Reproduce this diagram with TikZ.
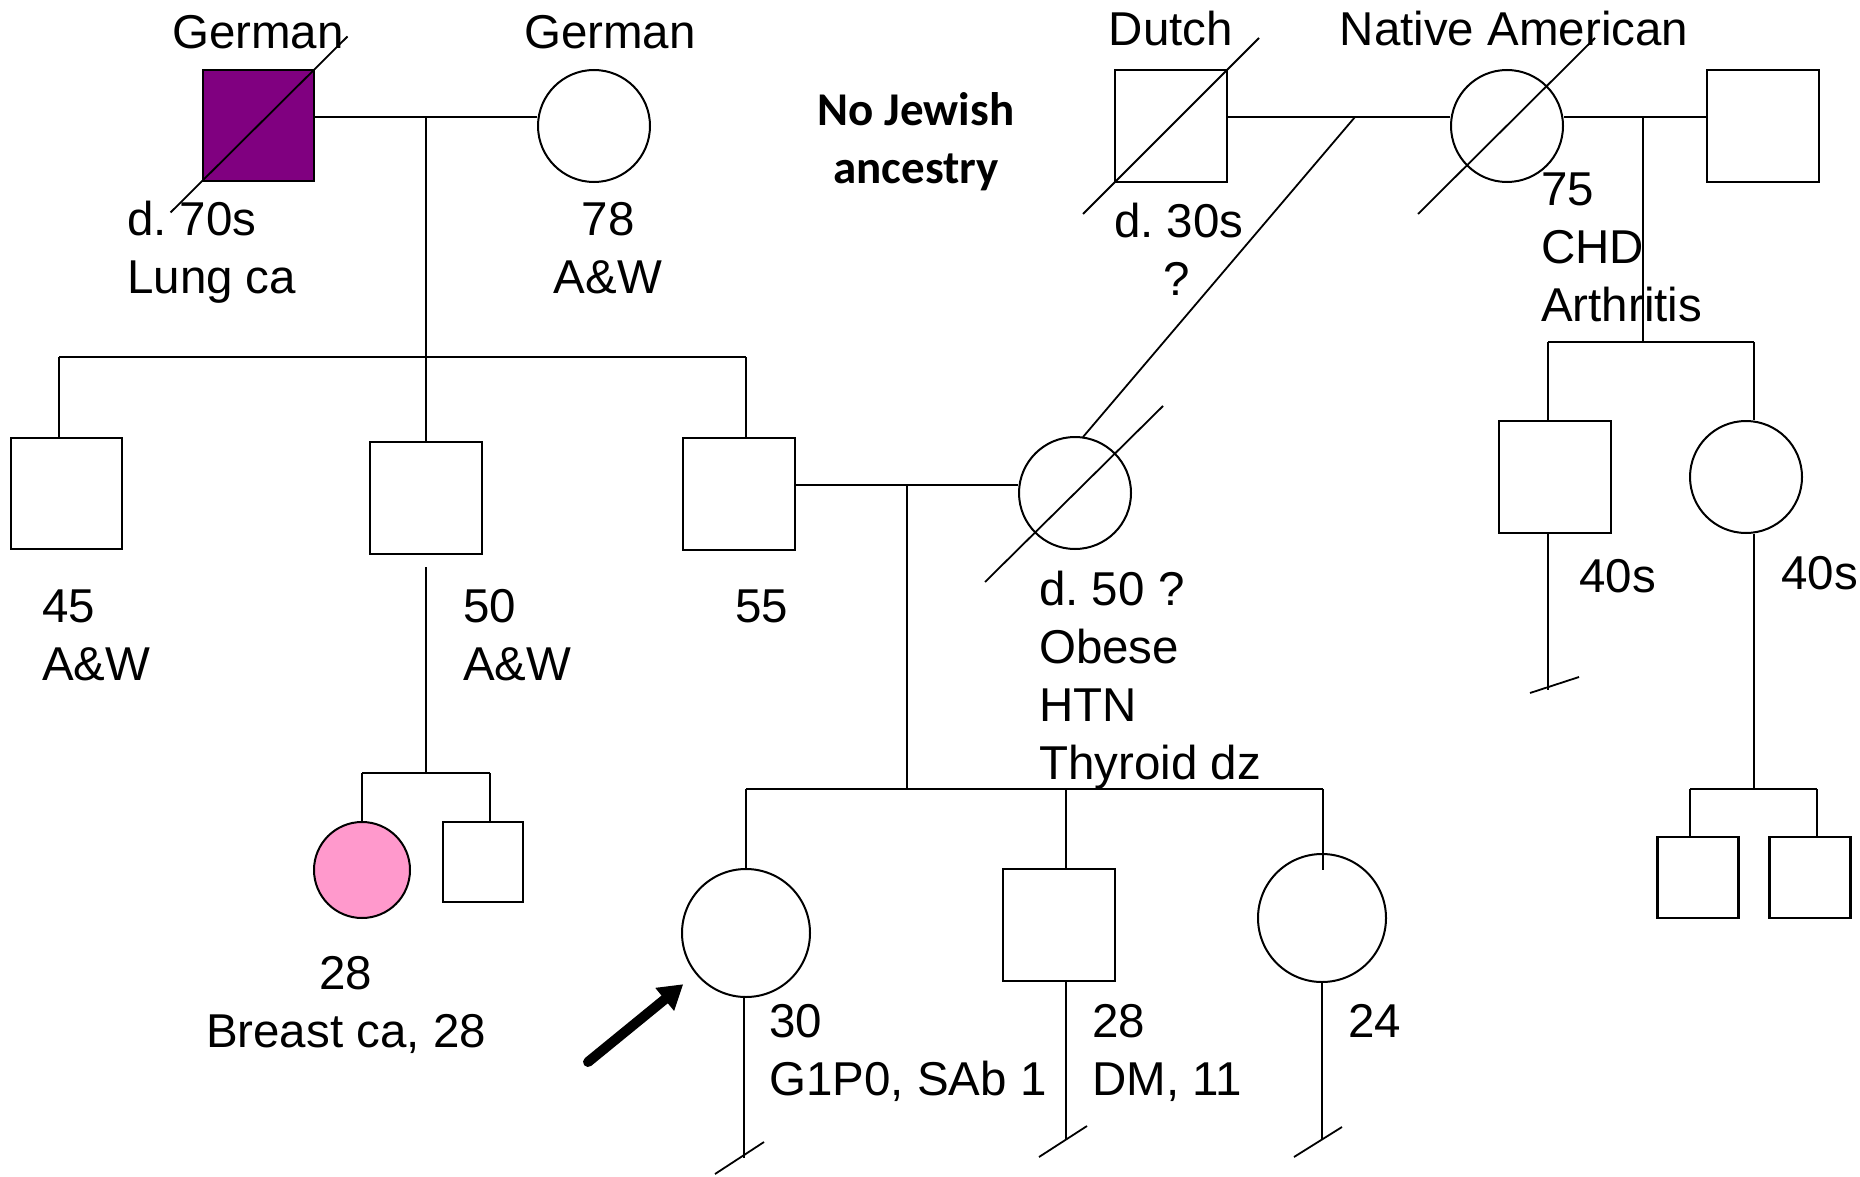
\documentclass[tikz,border=0pt]{standalone}
\usepackage{fontspec}
\setmainfont{Liberation Sans}
\newfontfamily\notefont{Carlito}
\usetikzlibrary{calc,arrows.meta}
\definecolor{affmale}{HTML}{800080}
\definecolor{afffemale}{HTML}{FF99CC}
\frenchspacing

\begin{document}
\begin{tikzpicture}[x=1pt,y=-1pt,
  male/.style={draw, rectangle, minimum size=#1, inner sep=0pt, line width=2.2pt},
  male/.default=112pt,
  female/.style={draw, circle, minimum size=#1, inner sep=0pt, line width=2pt},
  female/.default=112pt,
  rel/.style={line width=2.5pt},
  thinln/.style={line width=1.8pt},
  % multi-line labels are placed by the baseline of their last line
  lbl/.style={font=\fontsize{47.5}{58}\selectfont, inner sep=0pt, anchor=base west, align=left},
  lblc/.style={lbl, anchor=base, align=center},
  gone/.style={line width=1.8pt},
  deadtick/.style={line width=1.8pt},
]
\useasboundingbox (0,0) rectangle (1860,1177);

% ---------- generation I ----------
\node[male=111pt, fill=affmale] (gm1) at (258.5,125.5) {};
\node[female] (gf1) at (594,126) {};
\node[male] (dm) at (1171,126) {};
\node[female] (na) at (1507,126) {};
\node[male] (hm) at (1763,126) {};

\draw[gone] ($(gm1)+(-88,87)$) -- ($(gm1)+(89,-89)$);
\draw[gone] ($(dm)+(-88,88)$) -- ($(dm)+(88,-88)$);
\draw[gone] ($(na)+(-89,88)$) -- ($(na)+(88,-88)$);

\node[lblc] at (258,49) {German};
\node[lblc] at (610,49) {German};
\node[lblc] at (1171,46) {Dutch};
\node[lblc] at (1514,46) {Native American};

\node[lbl] (gm1txt) at (127,293) {d. 70s\\Lung ca};
\node[lblc] (gf1txt) at (608,293) {78\\A\&W};
\node[lbl] (dmtxt) at (1114,237) {d. 30s};
\node[lblc] at (1177,295) {?};
\node[lbl] (natxt) at (1541,321) {75\\CHD\\Arthritis};

\node[font=\notefont\bfseries\fontsize{47}{58}\selectfont, align=center, inner sep=0pt, anchor=base]
  (note) at (916,184) {No Jewish\\ancestry};

% couples of generation I
\coordinate (m1) at (426,117);
\coordinate (m3) at (1355,117);
\coordinate (m4) at (1643,117);
\draw[rel] (gm1.east |- m1) -- (gf1.west |- m1);
\draw[rel] (dm.east |- m3) -- (na.west |- m3);
\draw[rel] (na.east |- m4) -- (hm.west |- m4);

% ---------- generation II ----------
\node[male=111pt] (u1) at (66.5,493.5) {};
\node[male] (u2) at (426,498) {};
\node[male] (f55) at (739,494) {};
\node[female] (w) at (1075,493) {};
\node[male] (cm) at (1555,477) {};
\node[female] (cf) at (1746,477) {};

\draw[gone] ($(w)+(-90,89)$) -- ($(w)+(88,-87)$);

\node[lbl] at (42,680) {45\\A\&W};
\node[lbl] at (463,680) {50\\A\&W};
\node[lbl] at (735,622) {55};
\node[lbl] at (1039,779) {d. 50 ?\\Obese\\HTN\\Thyroid dz};
\node[lbl] at (1579,592) {40s};
\node[lbl] at (1781,589) {40s};

% sibship of gm1 x gf1
\coordinate (s1) at (426,357);
\coordinate (s1a) at (59,357);
\coordinate (s1c) at (746,357);
\draw[thinln] (m1) -- (s1);
\draw[rel] (s1a) -- (s1c);
\draw[thinln] (s1a) -- (s1a |- u1.north);
\draw[thinln] (s1) -- (u2.north);
\draw[thinln] (s1c) -- (s1c |- f55.north);

% Dutch x Native American descent to w
\draw[thinln] (m3) -- ($(w.north)+(8,1)$);

% sibship of na x hm
\coordinate (s4) at (1643,342);
\coordinate (s4a) at (1548,342);
\coordinate (s4b) at (1754,342);
\draw[thinln] (m4) -- (s4);
\draw[rel] (s4a) -- (s4b);
\draw[thinln] (s4a) -- (s4a |- cm.north);
\draw[thinln] (s4b) -- (s4b |- cf.north);

% cm: line of descent cut off
\coordinate (cmend) at (1548,690);
\draw[thinln] (cm.south -| cmend) -- (cmend);
\draw[deadtick] ($(cmend)+(-18,3)$) -- ($(cmend)+(31,-13)$);

% couple f55 x w
\coordinate (m2) at (907,485);
\draw[rel] (f55.east |- m2) -- (w.west |- m2);

% ---------- generation III ----------
% children of u2
\coordinate (u2d) at (426,567);
\coordinate (s2) at (426,773);
\coordinate (s2a) at (362,773);
\coordinate (s2b) at (490,773);
\node[female=96pt, fill=afffemale] (pk) at (362,870) {};
\node[male=80pt] (sb) at (483,862) {};
\draw[thinln] (u2d) -- (s2);
\draw[rel] (s2a) -- (s2b);
\draw[thinln] (s2a) -- (pk.north);
\draw[thinln] (s2b) -- (s2b |- sb.north);
\node[lblc] at (346,1047) {28\\Breast ca, 28};

% children of f55 x w
\coordinate (s3) at (907,789);
\coordinate (s3a) at (746,789);
\coordinate (s3b) at (1066,789);
\coordinate (s3c) at (1323,789);
\node[female=128pt] (pb) at (746,933) {};
\node[male] (br) at (1059,925) {};
\node[female=128pt] (sis) at (1322,918) {};
\draw[thinln] (m2) -- (s3);
\draw[rel] (s3a) -- (s3c);
\draw[thinln] (s3a) -- (pb.north);
\draw[thinln] (s3b) -- (s3b |- br.north);
\draw[thinln] (s3c) -- (1323,870);

\node[lbl] at (769,1095) {30\\G1P0, SAb 1};
\node[lbl] at (1092,1095) {28\\DM, 11};
\node[lbl] at (1348,1037) {24};

\coordinate (pbend) at (744,1158);
\coordinate (brend) at (1066,1140);
\coordinate (sisend) at (1322,1140);
\draw[thinln] (pb.south -| pbend) -- (pbend);
\draw[thinln] (br.south -| brend) -- (brend);
\draw[thinln] (sis.south -| sisend) -- (sisend);
\draw[deadtick] ($(pbend)+(-29,16)$) -- ($(pbend)+(20,-16)$);
\draw[deadtick] ($(brend)+(-27,17)$) -- ($(brend)+(21,-14)$);
\draw[deadtick] ($(sisend)+(-28,17)$) -- ($(sisend)+(20,-13)$);

% children of cf
\coordinate (s5) at (1754,789);
\coordinate (s5a) at (1690,789);
\coordinate (s5b) at (1817,789);
\node[male=81pt] (g1) at (1698,877.5) {};
\node[male=81pt] (g2) at (1810,877.5) {};
\draw[thinln] (cf.south -| s5) -- (s5);
\draw[rel] (s5a) -- (s5b);
\draw[thinln] (s5a) -- (s5a |- g1.north);
\draw[thinln] (s5b) -- (s5b |- g2.north);

% proband arrow
\coordinate (tail) at (588,1062);
\draw[line width=10pt, line cap=round, -{Triangle[length=24pt,width=28pt]}, shorten >=16pt]
  (tail) -- (pb);
\end{tikzpicture}
\end{document}
